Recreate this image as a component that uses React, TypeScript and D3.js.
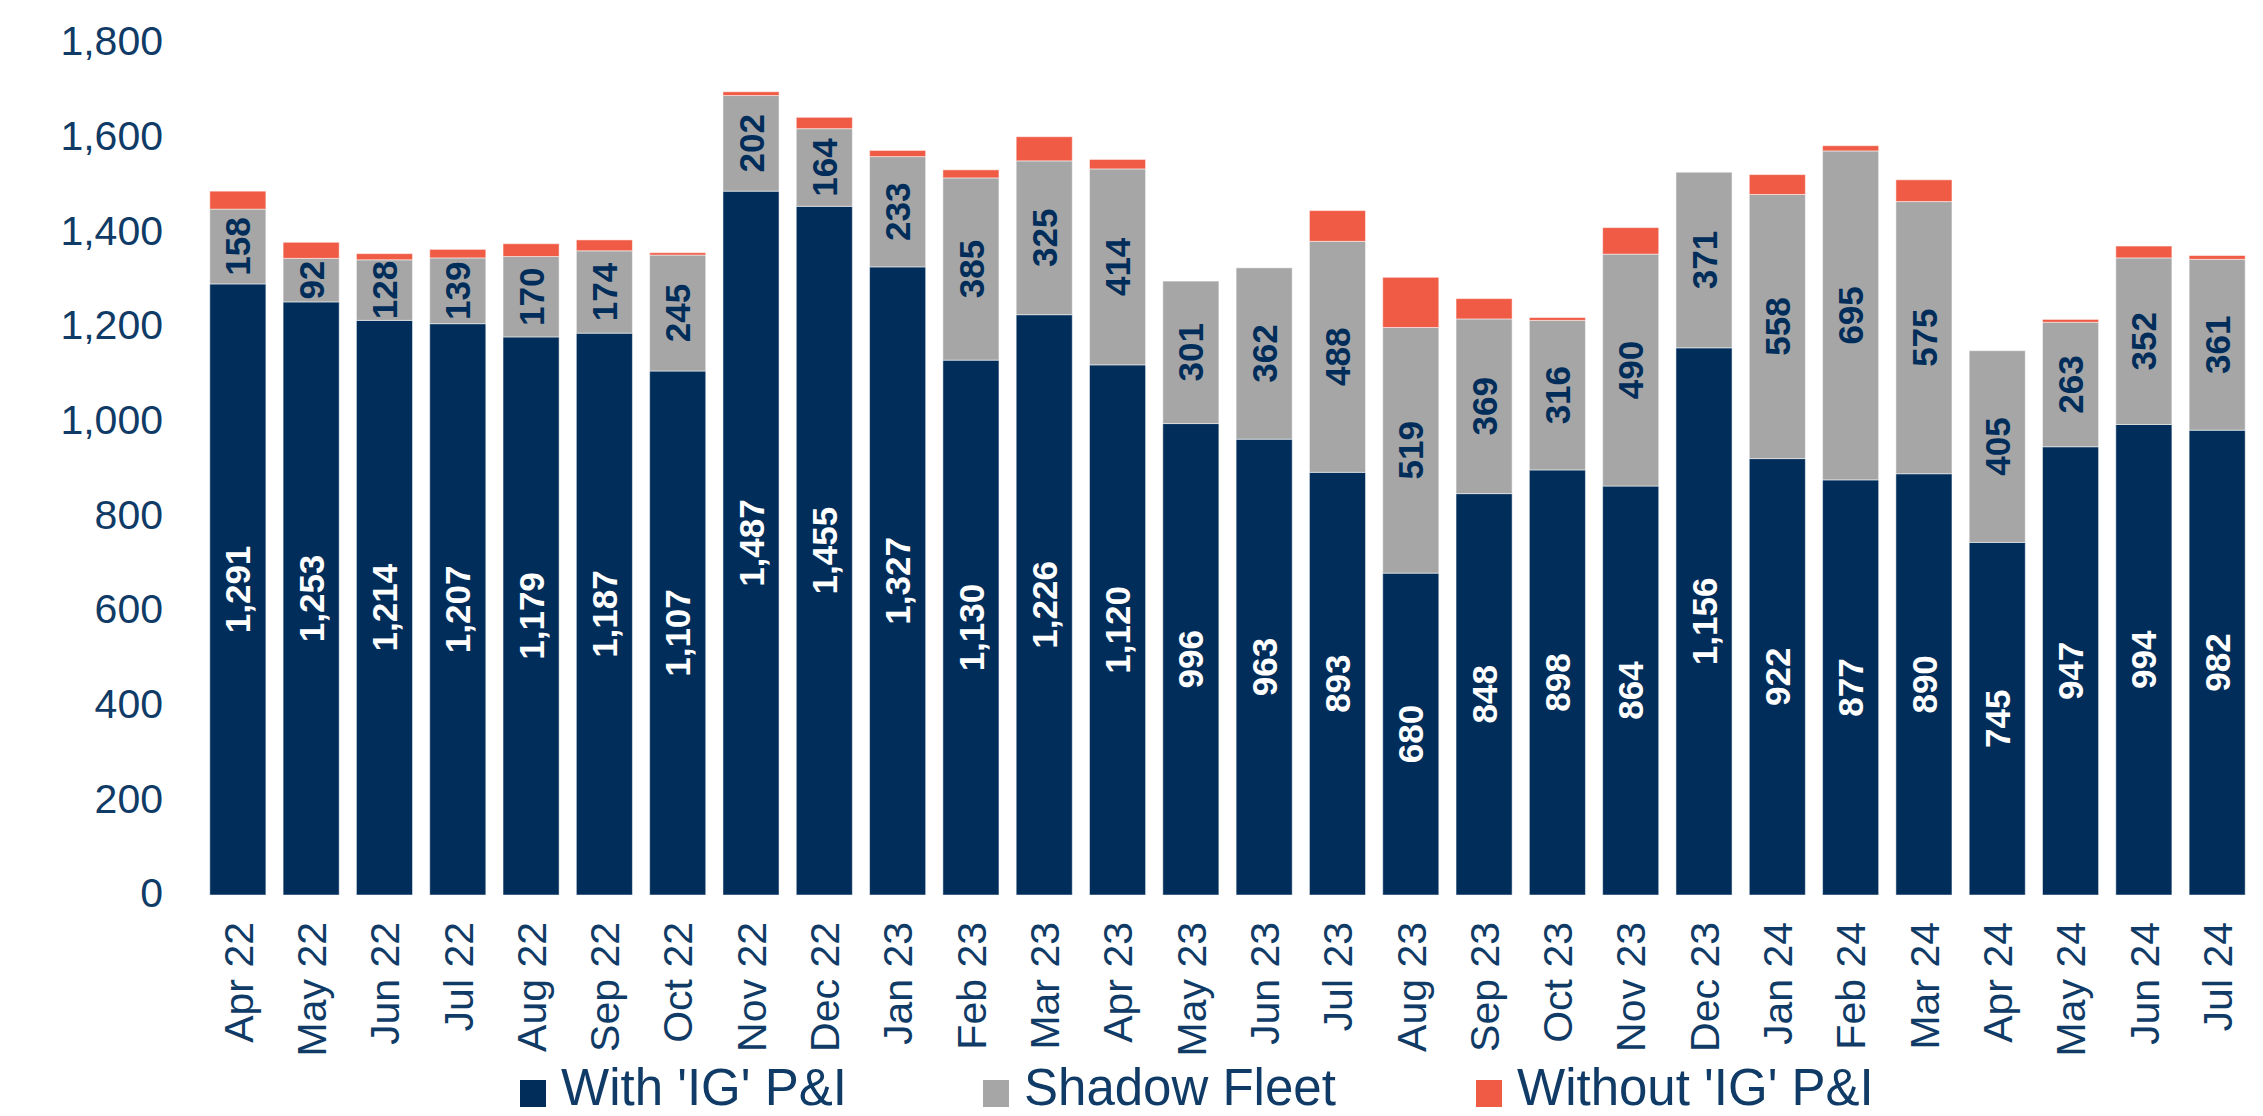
import React from 'react';
import * as d3 from 'd3';

const months = [
  'Apr 22', 'May 22', 'Jun 22', 'Jul 22', 'Aug 22', 'Sep 22', 'Oct 22', 'Nov 22', 'Dec 22',
  'Jan 23', 'Feb 23', 'Mar 23', 'Apr 23', 'May 23', 'Jun 23', 'Jul 23', 'Aug 23', 'Sep 23',
  'Oct 23', 'Nov 23', 'Dec 23', 'Jan 24', 'Feb 24', 'Mar 24', 'Apr 24', 'May 24', 'Jun 24', 'Jul 24',
];

const withIG = [
  1291, 1253, 1214, 1207, 1179, 1187, 1107, 1487, 1455,
  1327, 1130, 1226, 1120, 996, 963, 893, 680, 848,
  898, 864, 1156, 922, 877, 890, 745, 947, 994, 982,
];

const shadowFleet = [
  158, 92, 128, 139, 170, 174, 245, 202, 164,
  233, 385, 325, 414, 301, 362, 488, 519, 369,
  316, 490, 371, 558, 695, 575, 405, 263, 352, 361,
];

// (no labels in the original)
const withoutIG = [
  38, 34, 13, 18, 27, 23, 5, 8, 24,
  13, 17, 51, 20, 0, 0, 65, 106, 43,
  6, 56, 0, 42, 11, 46, 0, 6, 25, 8,
];

const yTicks = [0, 200, 400, 600, 800, 1000, 1200, 1400, 1600, 1800];

const seriesNames = ["With 'IG' P&I", 'Shadow Fleet', "Without 'IG' P&I"];

const W = 2263;
const H = 1116;
const NAVY = '#012d5a';
const GREY = '#a6a6a6';
const RED = '#f05b45';
const TEXT = '#0f3b66';
const FONT = '"Liberation Sans", Arial, sans-serif';

const App: React.FC = () => {
  const x = d3.scaleBand<string>()
    .domain(months)
    .range([201, 2254])
    .paddingInner(0.235)
    .paddingOuter(0.12);

  const y = d3.scaleLinear().domain([0, 1800]).range([895, 43]);

  const rows = months.map((m, i) => ({
    month: m,
    withIG: withIG[i],
    shadow: shadowFleet[i],
    without: withoutIG[i],
  }));
  const keys = ['withIG', 'shadow', 'without'];
  const colors = [NAVY, GREY, RED];
  const stacked = d3.stack<any>().keys(keys)(rows);
  const fmt = d3.format(',');

  // legend marker positions
  const legendX = [520, 983, 1476];

  return (
    <div style={{ position: 'absolute', left: 0, top: 0, width: W, height: H, background: '#fff' }}>
      <svg width={W} height={H} style={{ display: 'block', fontFamily: FONT }}>
        {/* y tick labels */}
        {yTicks.map(t => (
          <text key={t} x={163} y={y(t)} dy="0.3em" textAnchor="end" fontSize={41} fill={TEXT}>
            {fmt(t)}
          </text>
        ))}

        {/* stacked bars */}
        {stacked.map((layer, si) => (
          <g key={layer.key} fill={colors[si]}>
            {layer.map((d, i) => {
              const h = y(d[0]) - y(d[1]);
              if (h <= 0) return null;
              return (
                <rect
                  key={months[i]}
                  x={x(months[i])}
                  y={y(d[1])}
                  width={x.bandwidth()}
                  height={h}
                  stroke="#ffffff"
                  strokeOpacity={0.5}
                  strokeWidth={1}
                />
              );
            })}
          </g>
        ))}

        {/* value labels inside the navy and grey segments */}
        {stacked.slice(0, 2).map((layer, si) => (
          <g key={`lbl-${layer.key}`}>
            {layer.map((d, i) => {
              const cx = (x(months[i]) as number) + x.bandwidth() / 2;
              const cy = (y(d[0]) + y(d[1])) / 2;
              const v = si === 0 ? withIG[i] : shadowFleet[i];
              return (
                <text
                  key={months[i]}
                  transform={`translate(${cx},${cy}) rotate(-90)`}
                  textAnchor="middle"
                  dy="0.36em"
                  fontSize={35}
                  fontWeight="bold"
                  fill={si === 0 ? '#ffffff' : NAVY}
                >
                  {fmt(v)}
                </text>
              );
            })}
          </g>
        ))}

        {/* x labels */}
        {months.map(m => (
          <text
            key={m}
            transform={`translate(${(x(m) as number) + x.bandwidth() / 2},922) rotate(-90)`}
            textAnchor="end"
            dy="0.36em"
            fontSize={41}
            fill={TEXT}
          >
            {m}
          </text>
        ))}

        {/* legend */}
        {seriesNames.map((name, i) => (
          <g key={name}>
            <rect x={legendX[i]} y={1080} width={26} height={27} fill={colors[i]} />
            <text x={legendX[i] + 41} y={1105} fontSize={51} fill={TEXT}>
              {name}
            </text>
          </g>
        ))}
      </svg>
    </div>
  );
};

export default App;
